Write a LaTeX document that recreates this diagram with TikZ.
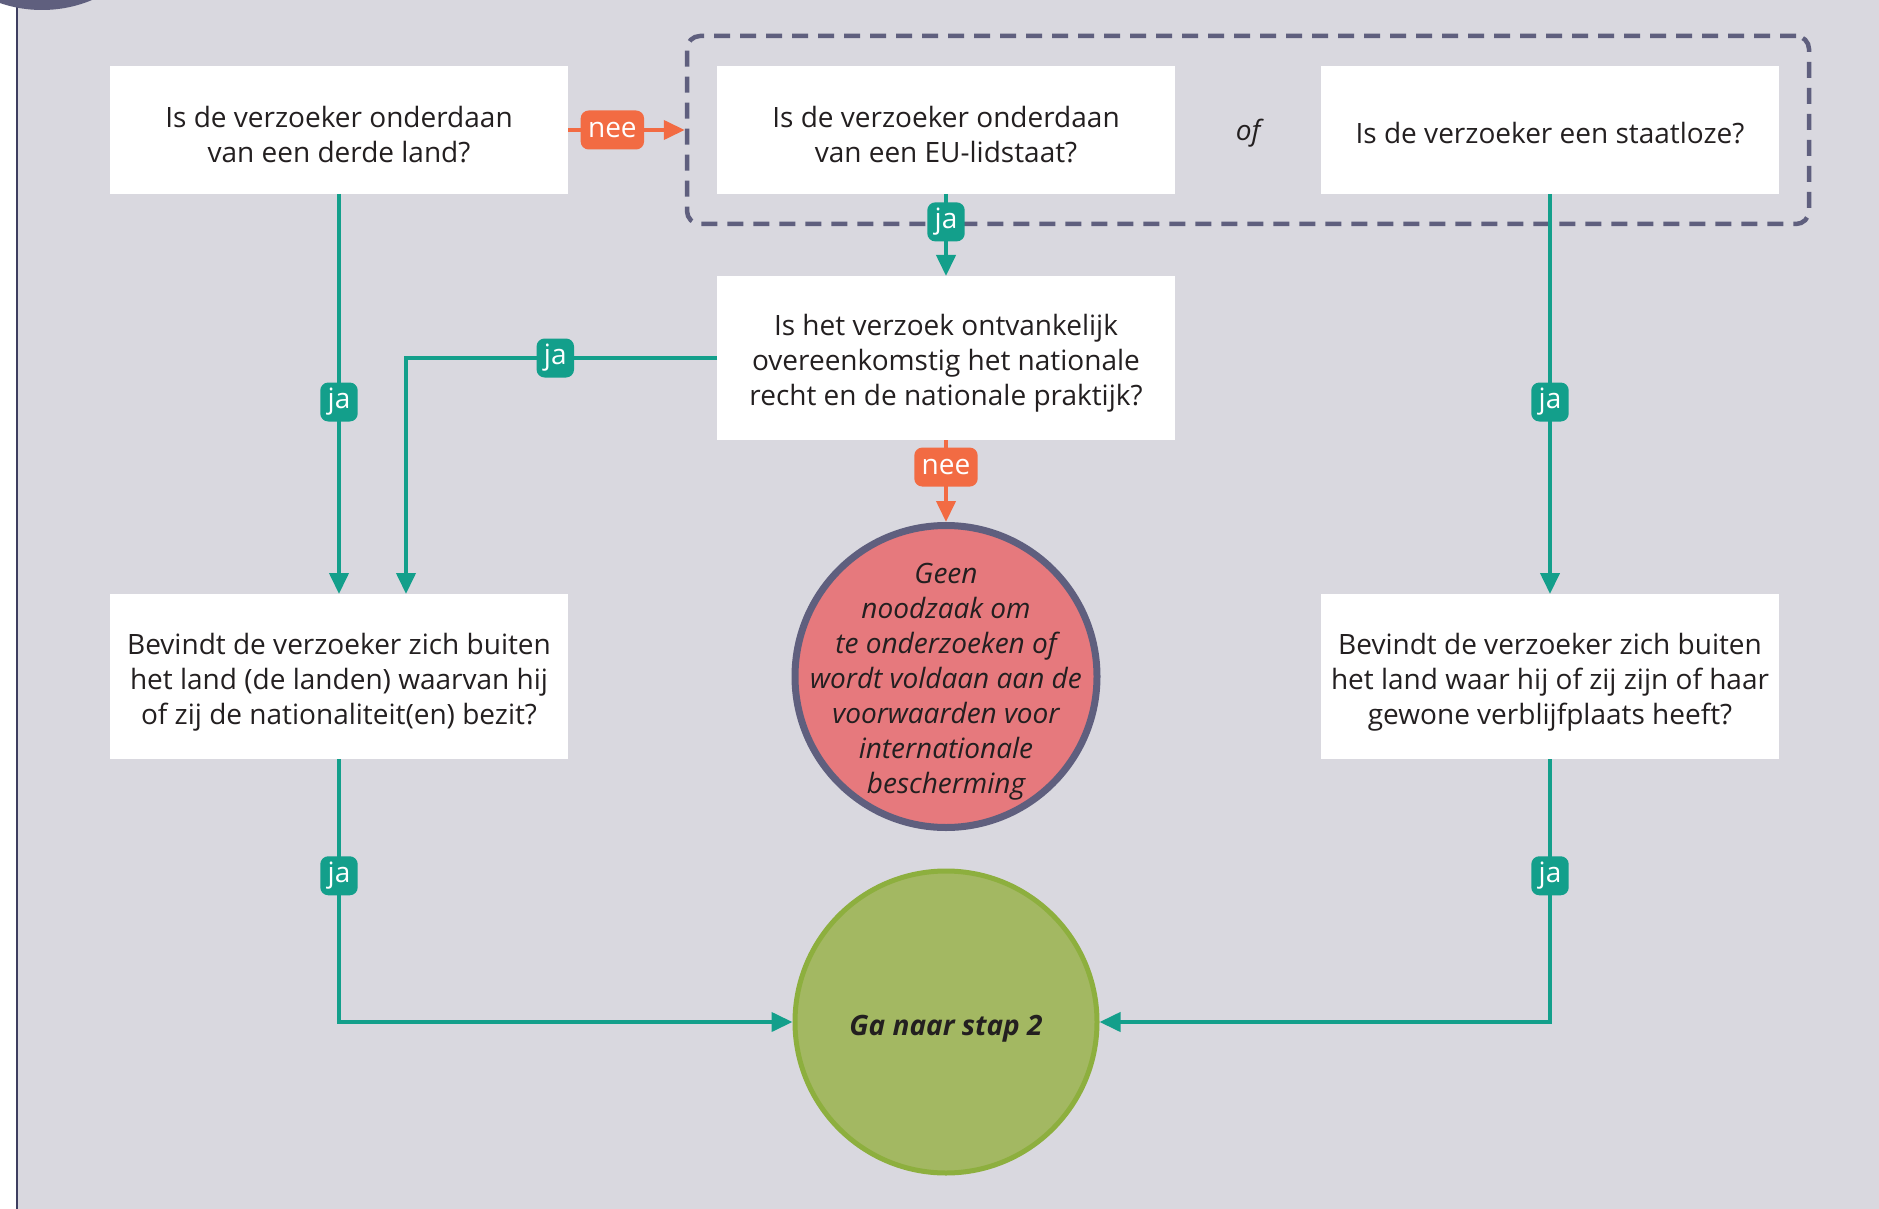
\documentclass[tikz,border=0pt]{standalone}
\usepackage{fontspec}
\setmainfont{Open Sans}
\usetikzlibrary{positioning, fit, calc, arrows.meta}

\definecolor{panelgray}{HTML}{D9D8DF}
\definecolor{slate}{HTML}{5F5F7E}
\definecolor{edgeslate}{HTML}{3E3E60}
\definecolor{jagreen}{HTML}{139F8B}
\definecolor{neeorange}{HTML}{F26B43}
\definecolor{stopred}{HTML}{E6797D}
\definecolor{gofill}{HTML}{A3B862}
\definecolor{goborder}{HTML}{8DAF3E}
\definecolor{inktext}{HTML}{231F20}

\newcommand{\boxfont}{\fontsize{14pt}{17.5pt}\selectfont}

\tikzset{
	every node/.append style={
		text=inktext,
		font=\boxfont,
	},
	question/.style={
		fill=white,
		align=center,
		minimum width=229pt,
		inner sep=0pt,
		outer sep=0pt,
		text depth=0pt,
	},
	oneline/.style={text height=14pt},
	twoline/.style={text height=33pt},
	threeline/.style={text height=47.5pt},
	groupbox/.style={
		draw=slate,
		line width=2.25pt,
		dash pattern=on 8pt off 5pt,
		rounded corners=6.5pt,
		inner sep=15pt,
	},
	circletext/.style={
		align=center,
		font=\boxfont\itshape,
	},
	stopcircle/.style={
		circle,
		draw=slate,
		line width=3.5pt,
		fill=stopred,
		minimum size=151pt,
		inner sep=0pt,
	},
	gocircle/.style={
		circle,
		draw=goborder,
		line width=2.5pt,
		fill=gofill,
		minimum size=151pt,
		inner sep=0pt,
	},
	jaline/.style={
		draw=jagreen,
		line width=2pt,
		-{Triangle[length=10.5pt, width=9.5pt]},
	},
	neeline/.style={
		draw=neeorange,
		line width=2pt,
		-{Triangle[length=10.5pt, width=9.5pt]},
	},
	jalabel/.style={
		fill=jagreen,
		text=white,
		rounded corners=4pt,
		inner xsep=3.7pt,
		inner ysep=0pt,
		minimum height=19.5pt,
	},
	neelabel/.style={
		jalabel,
		fill=neeorange,
	},
}

\begin{document}
\begin{tikzpicture}[x=0.5pt, y=-0.5pt]

% page frame
\useasboundingbox (0,0) rectangle (1879,1209);
\fill[white] (0,0) rectangle (1879,1209);
\fill[panelgray] (17,0) rectangle (1879,1209);
\draw[edgeslate, line width=1pt] (17,0) -- (17,1209);
\fill[slate] (42,-120) circle[radius=65pt];

% questions
\node(derde)[question, twoline, minimum height=64pt] at (339,130) {Is de verzoeker onderdaan\\ van een derde land?};
\node(eu)[question, twoline, minimum height=64pt, right=74.5pt of derde] {Is de verzoeker onderdaan\\ van een EU-lidstaat?};
\node(staatloos)[question, oneline, minimum height=64pt, right=73pt of eu] {Is de verzoeker een staatloze?};
\node(of)[yshift=-1.8pt] at ($(eu.east)!0.5!(staatloos.west)$) {\itshape of};
\node(groep)[groupbox, fit=(eu)(staatloos)] {};

\node(ontv)[question, threeline, minimum height=82pt, below=41pt of eu] {Is het verzoek ontvankelijk\\ overeenkomstig het nationale\\ recht en de nationale praktijk?};
\node(buitenland)[question, threeline, minimum height=82.5pt, below=200pt of derde] {Bevindt de verzoeker zich buiten\\ het land (de landen) waarvan hij\\ of zij de nationaliteit(en) bezit?};
\node(verblijf)[question, threeline, minimum height=82.5pt, below=200pt of staatloos] {Bevindt de verzoeker zich buiten\\ het land waar hij of zij zijn of haar\\ gewone verblijfplaats heeft?};

% outcomes
\node(geen)[stopcircle, below=41pt of ontv,
	label={[circletext, yshift=-2.4pt]center:Geen\\ noodzaak om\\ te onderzoeken of\\ wordt voldaan aan de\\ voorwaarden voor\\ internationale\\ bescherming}] {};
\node(stap2)[gocircle, below=18.75pt of geen,
	label={[circletext, yshift=-3.5pt]center:\bfseries Ga naar stap 2}] {};

% connectors
\draw[neeline] (derde) -- node[neelabel, pos=0.38]{nee} (groep);
\draw[jaline] (eu) -- node[jalabel, pos=0.34]{ja} (ontv);
\draw[jaline] (derde) -- node[jalabel, pos=0.52]{ja} (buitenland);
\draw[jaline] (ontv.west) -| node[jalabel, pos=0.26]{ja} ([xshift=33.5pt]buitenland.north);
\draw[jaline] (staatloos) -- node[jalabel, pos=0.52]{ja} (verblijf);
\draw[neeline] (ontv) -- node[neelabel, pos=0.33]{nee} (geen);
\draw[jaline] (buitenland) |- node[jalabel, pos=0.222]{ja} (stap2);
\draw[jaline] (verblijf) |- node[jalabel, pos=0.222]{ja} (stap2);

\end{tikzpicture}
\end{document}
